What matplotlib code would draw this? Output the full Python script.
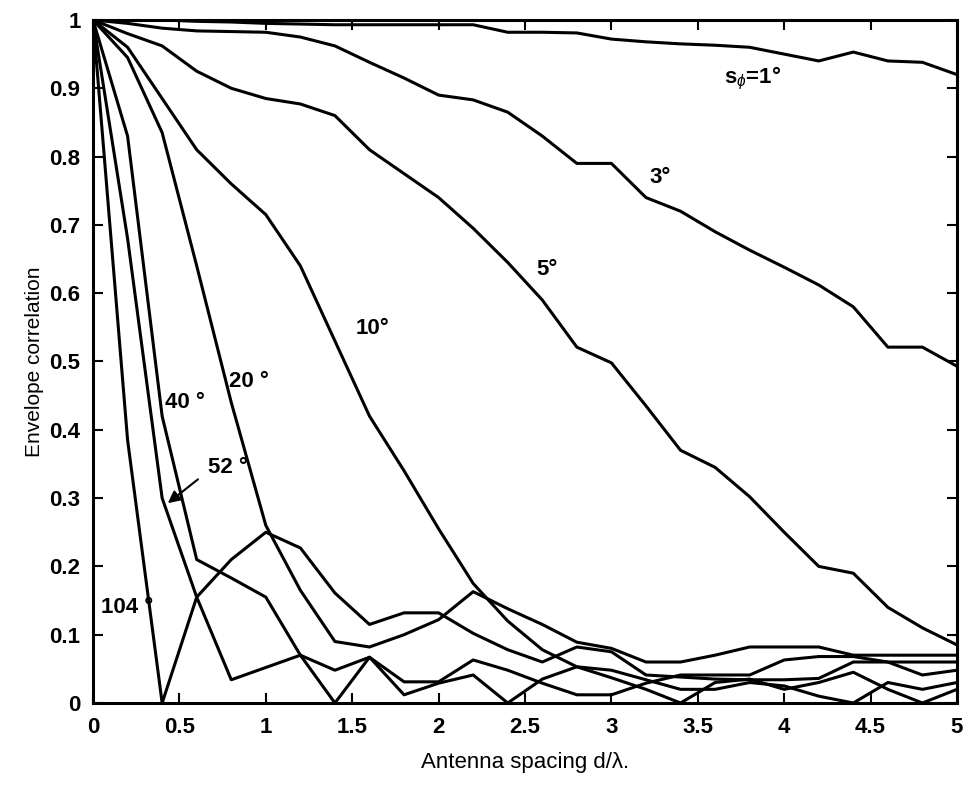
import matplotlib
matplotlib.use("Agg")
import matplotlib.pyplot as plt
import numpy as np

# antenna spacing d/lambda, sampled every 0.2
spacing = np.round(np.arange(0, 5.01, 0.2), 1)

# envelope correlation for each angular spread
rho_1 = [1.0, 1.0, 1.0, 0.998, 0.997, 0.995, 0.994, 0.993, 0.993, 0.993, 0.993, 0.993, 0.982,
         0.982, 0.981, 0.972, 0.968, 0.965, 0.963, 0.96, 0.95, 0.94, 0.953, 0.94, 0.938, 0.92]
rho_3 = [1.0, 0.995, 0.988, 0.984, 0.983, 0.982, 0.975, 0.962, 0.938, 0.915, 0.89, 0.883, 0.865,
         0.83, 0.79, 0.79, 0.74, 0.72, 0.69, 0.663, 0.638, 0.612, 0.58, 0.521, 0.521, 0.493]
rho_5 = [1.0, 0.98, 0.962, 0.925, 0.9, 0.885, 0.877, 0.86, 0.81, 0.775, 0.74, 0.695, 0.645,
         0.59, 0.521, 0.498, 0.435, 0.37, 0.345, 0.302, 0.25, 0.2, 0.19, 0.14, 0.11, 0.085]
rho_10 = [1.0, 0.96, 0.885, 0.81, 0.76, 0.715, 0.64, 0.53, 0.42, 0.34, 0.255, 0.175, 0.12,
          0.078, 0.053, 0.037, 0.02, 0.0, 0.03, 0.035, 0.02, 0.03, 0.045, 0.02, 0.0, 0.02]
rho_20 = [1.0, 0.945, 0.835, 0.64, 0.44, 0.26, 0.165, 0.09, 0.082, 0.1, 0.122, 0.163, 0.138,
          0.115, 0.089, 0.08, 0.06, 0.06, 0.07, 0.082, 0.082, 0.082, 0.07, 0.07, 0.07, 0.07]
rho_40 = [1.0, 0.83, 0.42, 0.21, 0.183, 0.155, 0.07, 0.0, 0.067, 0.012, 0.029, 0.041, 0.0,
          0.035, 0.053, 0.048, 0.034, 0.02, 0.02, 0.03, 0.025, 0.01, 0.0, 0.03, 0.02, 0.03]
rho_52 = [1.0, 0.68, 0.3, 0.155, 0.034, 0.052, 0.07, 0.048, 0.067, 0.031, 0.031, 0.063, 0.048,
          0.029, 0.012, 0.012, 0.029, 0.041, 0.041, 0.041, 0.063, 0.068, 0.068, 0.06, 0.041, 0.048]
rho_104 = [1.0, 0.385, 0.0, 0.155, 0.21, 0.25, 0.227, 0.161, 0.115, 0.132, 0.132, 0.102, 0.078,
           0.06, 0.082, 0.075, 0.041, 0.038, 0.035, 0.034, 0.034, 0.036, 0.06, 0.06, 0.06, 0.06]

curves = [rho_1, rho_3, rho_5, rho_10, rho_20, rho_40, rho_52, rho_104]

xticks = [0, 0.5, 1, 1.5, 2, 2.5, 3, 3.5, 4, 4.5, 5]
xtick_labels = ["0", "0.5", "1", "1.5", "2", "2.5", "3", "3.5", "4", "4.5", "5"]
yticks = [0, 0.1, 0.2, 0.3, 0.4, 0.5, 0.6, 0.7, 0.8, 0.9, 1]
ytick_labels = ["0", "0.1", "0.2", "0.3", "0.4", "0.5", "0.6", "0.7", "0.8", "0.9", "1"]

plt.rcParams["font.family"] = ["Liberation Sans", "DejaVu Sans"]
plt.rcParams["mathtext.fontset"] = "custom"
plt.rcParams["mathtext.rm"] = "Liberation Sans"
plt.rcParams["mathtext.it"] = "Liberation Sans:italic"

fig = plt.figure(figsize=(9.7, 7.86), dpi=100)
ax = fig.add_axes([0.0959, 0.1056, 0.8907, 0.869])

for rho in curves:
    ax.plot(spacing, rho, color="black", linewidth=2.2)

ax.set_xlim(0, 5)
ax.set_ylim(0, 1)
ax.set_xticks(xticks)
ax.set_xticklabels(xtick_labels, fontsize=16, fontweight="bold")
ax.set_yticks(yticks)
ax.set_yticklabels(ytick_labels, fontsize=16, fontweight="bold")
ax.tick_params(direction="in", length=7, width=1.5, top=True, right=True)
ax.tick_params(axis="x", pad=10)
ax.tick_params(axis="y", pad=9)
for s in ax.spines.values():
    s.set_linewidth(2.2)

ax.set_xlabel("Antenna spacing d/\u03bb.", fontsize=16, labelpad=10)
ax.set_ylabel("Envelope correlation", fontsize=15, labelpad=4)

lab = dict(fontsize=16, fontweight="bold", ha="center", va="center")
ax.text(3.82, 0.915, r"s$_{\phi}$=1°", **lab)
ax.text(3.28, 0.77, "3°", **lab)
ax.text(2.63, 0.635, "5°", **lab)
ax.text(1.62, 0.548, "10°", **lab)
ax.text(0.9, 0.47, "20 °", **lab)
ax.text(0.53, 0.44, "40 °", **lab)
ax.text(0.78, 0.345, "52 °", **lab)
ax.text(0.2, 0.14, "104 °", **lab)
ax.annotate("", xy=(0.42, 0.29), xytext=(0.62, 0.33),
            arrowprops=dict(arrowstyle="-|>", color="black", lw=1.5, mutation_scale=18))

fig.savefig("out.png", dpi=100)
